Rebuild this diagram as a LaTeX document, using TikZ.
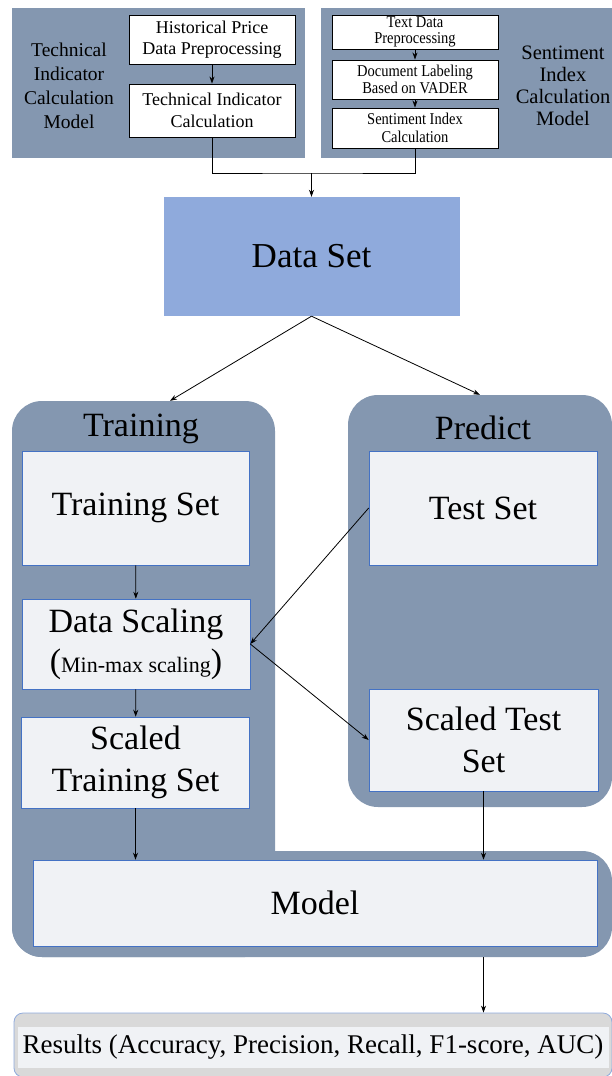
\documentclass[tikz,border=0pt]{standalone}
\usepackage{fontspec}
\setmainfont{Liberation Serif}
\newfontfamily\narrowserif{Liberation Serif}[FakeStretch=0.88]
\usepackage[dvipsnames,rgb]{xcolor}
\usepackage{tikz}
\usetikzlibrary{positioning,arrows.meta}

\definecolor{panelgray}{HTML}{8497B0}
\definecolor{dataset}{HTML}{8FAADC}
\definecolor{setfill}{HTML}{F0F2F5}
\definecolor{setline}{HTML}{4472C4}
\definecolor{resgray}{HTML}{D9D9D9}

\begin{document}
\begin{tikzpicture}[
    x=1pt, y=-1pt,
    >={Stealth[length=7pt,width=5pt]},
    panel/.style={fill=panelgray, draw=none, inner sep=0pt},
    stepbox/.style={draw=black, fill=white, line width=0.9pt,
        align=center, inner sep=0pt, minimum width=166pt},
    setbox/.style={draw=setline, fill=setfill, line width=0.6pt,
        align=center, inner sep=0pt,
        font=\fontsize{34}{42}\selectfont},
    link/.style={line width=0.8pt}
    ]
    \useasboundingbox (0,0) rectangle (612,1076);

    % top: the two calculation models
    \node[panel, minimum width=293pt, minimum height=150pt](techpanel) at (158.5,83) {};
    \node[panel, minimum width=291pt, minimum height=150pt](sentpanel) at (466.5,83) {};

    \node[align=center, font=\fontsize{19.5}{24}\selectfont](techlabel) at (69,86)
        {Technical\\Indicator\\Calculation\\Model};
    \node[stepbox, minimum height=49pt, font=\fontsize{18}{21}\selectfont](history) at (212,40)
        {Historical Price\\Data Preprocessing};
    \node[stepbox, minimum height=53pt, font=\fontsize{18}{22}\selectfont](techcalc) at (212,110.5)
        {Technical Indicator\\Calculation};

    \node[align=center, font=\fontsize{20.5}{22}\selectfont](sentlabel) at (563,86)
        {Sentiment\\Index\\Calculation\\Model};
    \node[stepbox, minimum height=34pt, font=\narrowserif\fontsize{16.5}{16.5}\selectfont](textprep) at (415,32)
        {Text Data\\Preprocessing};
    \node[stepbox, minimum height=39pt, font=\narrowserif\fontsize{16.5}{17.5}\selectfont](vader) at (415,79.5)
        {Document Labeling\\Based on VADER};
    \node[stepbox, minimum height=40pt, font=\narrowserif\fontsize{16.5}{17.5}\selectfont](sentcalc) at (415,128)
        {Sentiment Index\\Calculation};

    \draw[->, link] (history)->(techcalc);
    \draw[->, link] (textprep)->(vader);
    \draw[->, link] (vader)->(sentcalc);

    % data set
    \node[fill=dataset, minimum width=296pt, minimum height=119pt,
        font=\fontsize{35}{40}\selectfont](data) at (311.5,256.5) {Data Set};
    \coordinate (join) at (data.north |- 0,173);
    \draw[link] (techcalc.south) |- (join) -| (sentcalc.south);
    \draw[->, link] (join)->(data);

    % training and predict panels
    \node[panel, rounded corners=30pt, minimum width=263pt, minimum height=556pt](trainpanel) at (143.5,679) {};
    \node[panel, rounded corners=30pt, minimum width=600pt, minimum height=106pt](modelpanel) at (312,904) {};
    \node[panel, rounded corners=30pt, minimum width=264pt, minimum height=412pt](predpanel) at (480,601) {};

    \node[font=\fontsize{34}{40}\selectfont](traintitle) at (141,429) {Training};
    \node[font=\fontsize{34}{40}\selectfont](predtitle) at (483,428) {Predict};

    \draw[->, link] (data.south)->(170,0 |- trainpanel.north);
    \draw[->, link] (data.south)->(480,0 |- predpanel.north);

    \node[setbox, minimum width=227pt, minimum height=114pt](trainset) at (135.5,508) {Training Set};
    \node[setbox, minimum width=228pt, minimum height=90pt](scaling) at (136,644)
        {Data Scaling\\[-2pt](\fontsize{22}{26}\selectfont Min-max scaling\fontsize{34}{42}\selectfont)};
    \node[setbox, minimum width=228pt, minimum height=91pt](scaledtrain) at (135.5,762.5)
        {Scaled\\Training Set};
    \node[setbox, minimum width=228pt, minimum height=114pt](testset) at (483,508) {Test Set};
    \node[setbox, minimum width=229pt, minimum height=102pt](scaledtest) at (483.5,740)
        {Scaled Test\\Set};
    \node[setbox, minimum width=564pt, minimum height=86pt](model) at (315,903) {Model};

    \draw[->, link] (trainset)->(scaling);
    \draw[->, link] (scaling)->(scaledtrain);
    \draw[->, link] (testset.west)->(scaling.east);
    \draw[->, link] (scaling.east)->(scaledtest.west);
    \draw[->, link] (scaledtrain.south)->(scaledtrain.south |- model.north);
    \draw[->, link] (scaledtest.south)->(scaledtest.south |- model.north);

    % results
    \node[draw=dataset, fill=resgray, rounded corners=9pt, line width=0.8pt,
        minimum width=598pt, minimum height=64pt](resultsbox) at (313,1045) {};
    \node[fill=setfill, minimum width=591pt, minimum height=41pt,
        font=\fontsize{27}{30}\selectfont](results) at (313,1047.5)
        {Results (Accuracy, Precision, Recall, F1-score, AUC)};
    \draw[->, link] (scaledtest.south |- modelpanel.south)->(scaledtest.south |- resultsbox.north);
\end{tikzpicture}
\end{document}
